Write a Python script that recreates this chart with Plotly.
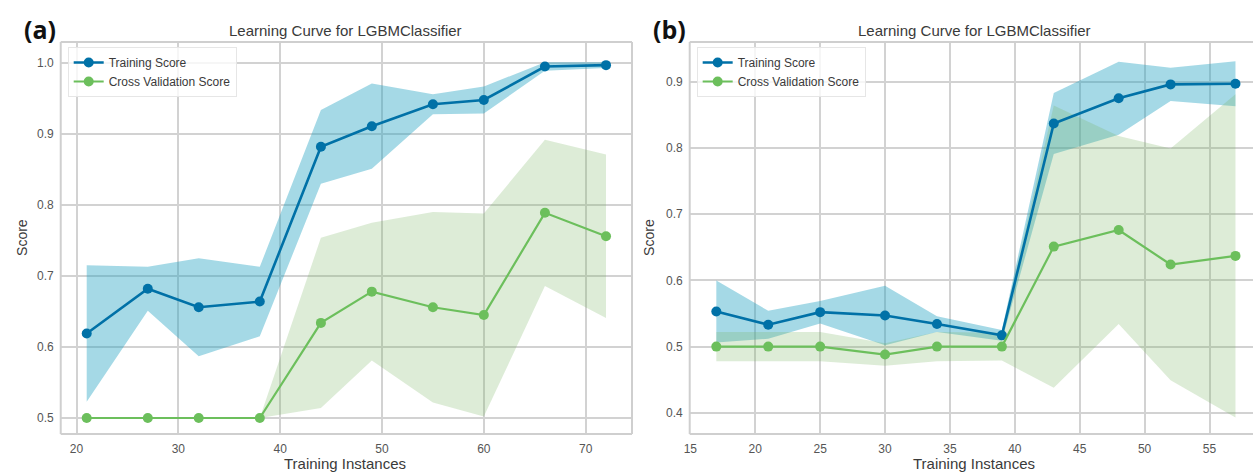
import plotly.graph_objects as go

# ---- panel (a) data ----
a_sizes = [21, 27, 32, 38, 44, 49, 55, 60, 66, 72]
a_train_mean = [0.619, 0.682, 0.656, 0.664, 0.882, 0.911, 0.942, 0.948, 0.995, 0.997]
a_train_std = [0.096, 0.031, 0.069, 0.049, 0.052, 0.060, 0.014, 0.019, 0.006, 0.004]
a_cv_mean = [0.500, 0.500, 0.500, 0.500, 0.634, 0.678, 0.656, 0.645, 0.789, 0.756]
a_cv_std = [0.0, 0.0, 0.0, 0.0, 0.120, 0.097, 0.134, 0.143, 0.103, 0.115]

# ---- panel (b) data ----
b_sizes = [17, 21, 25, 30, 34, 39, 43, 48, 52, 57]
b_train_mean = [0.553, 0.533, 0.552, 0.547, 0.534, 0.517, 0.837, 0.875, 0.896, 0.897]
b_train_std = [0.047, 0.021, 0.017, 0.045, 0.012, 0.008, 0.046, 0.055, 0.025, 0.034]
b_cv_mean = [0.500, 0.500, 0.500, 0.488, 0.500, 0.500, 0.651, 0.676, 0.624, 0.637]
b_cv_std = [0.022, 0.022, 0.022, 0.017, 0.022, 0.021, 0.213, 0.142, 0.175, 0.244]

a_xticks = [20, 30, 40, 50, 60, 70]
a_yticks = [0.5, 0.6, 0.7, 0.8, 0.9, 1.0]
b_xticks = [15, 20, 25, 30, 35, 40, 45, 50, 55]
b_yticks = [0.4, 0.5, 0.6, 0.7, 0.8, 0.9]

TRAIN_COLOR = "#0071a7"
CV_COLOR = "#6cbf5c"
TRAIN_BAND = "rgba(30,160,192,0.40)"
CV_BAND = "rgba(119,179,95,0.25)"
GRID = "#d2d2d2"
TEXT = "#3a3a3a"
TICK = "#555555"

W, H = 1253, 473


def band(xs, mean, std, color, xa, ya):
    upper = [m + s for m, s in zip(mean, std)]
    lower = [m - s for m, s in zip(mean, std)]
    return go.Scatter(
        x=list(xs) + list(xs)[::-1],
        y=upper + lower[::-1],
        fill="toself", fillcolor=color, mode="lines",
        line=dict(width=0), hoverinfo="skip", showlegend=False,
        xaxis=xa, yaxis=ya,
    )


def curve(xs, ys, name, color, width, size, xa, ya, legend):
    return go.Scatter(
        x=xs, y=ys, name=name, mode="lines+markers",
        line=dict(color=color, width=width),
        marker=dict(color=color, size=size),
        xaxis=xa, yaxis=ya, legend=legend,
    )


fig = go.Figure()
# bands first, then lines on top
fig.add_trace(band(a_sizes, a_train_mean, a_train_std, TRAIN_BAND, "x", "y"))
fig.add_trace(band(a_sizes, a_cv_mean, a_cv_std, CV_BAND, "x", "y"))
fig.add_trace(curve(a_sizes, a_train_mean, "Training Score", TRAIN_COLOR, 2.6, 10, "x", "y", "legend"))
fig.add_trace(curve(a_sizes, a_cv_mean, "Cross Validation Score", CV_COLOR, 2.2, 10, "x", "y", "legend"))

fig.add_trace(band(b_sizes, b_train_mean, b_train_std, TRAIN_BAND, "x2", "y2"))
fig.add_trace(band(b_sizes, b_cv_mean, b_cv_std, CV_BAND, "x2", "y2"))
fig.add_trace(curve(b_sizes, b_train_mean, "Training Score", TRAIN_COLOR, 2.6, 10, "x2", "y2", "legend2"))
fig.add_trace(curve(b_sizes, b_cv_mean, "Cross Validation Score", CV_COLOR, 2.2, 10, "x2", "y2", "legend2"))

# plot-area geometry in pixels
A_L, A_R = 55, 629
B_L, B_R = 687, W
P_T, P_B = 42, 434
yd = [1 - P_B / H, 1 - P_T / H]

axis_common = dict(
    showgrid=True, gridcolor=GRID, gridwidth=1.5, zeroline=False,
    showline=False, ticks="", tickfont=dict(family="Liberation Sans, Arial", size=12, color=TICK),
)

fig.update_layout(
    width=W, height=H,
    margin=dict(l=0, r=0, t=0, b=0),
    paper_bgcolor="white", plot_bgcolor="white",
    font=dict(family="Liberation Sans, Arial", color=TEXT),
    xaxis=dict(domain=[A_L / W, A_R / W], anchor="y", range=[18.45, 74.55],
               tickvals=a_xticks, ticklabelstandoff=6, **axis_common),
    yaxis=dict(domain=yd, anchor="x", range=[0.4775, 1.0296],
               tickvals=a_yticks, tickformat=".1f", ticklabelstandoff=6, **axis_common),
    xaxis2=dict(domain=[B_L / W, B_R / W], anchor="y2", range=[14.95, 58.35],
                tickvals=b_xticks, ticklabelstandoff=6, **axis_common),
    yaxis2=dict(domain=yd, anchor="x2", range=[0.368, 0.960],
                tickvals=b_yticks, tickformat=".1f", ticklabelstandoff=6, **axis_common),
    legend=dict(x=62 / W, y=1 - 47 / H, xanchor="left", yanchor="top",
                bgcolor="rgba(255,255,255,0.8)", bordercolor="#e6e6e6", borderwidth=1,
                font=dict(size=12, color=TEXT), tracegroupgap=0),
    legend2=dict(x=(B_L + 7) / W, y=1 - 47 / H, xanchor="left", yanchor="top",
                 bgcolor="rgba(255,255,255,0.8)", bordercolor="#e6e6e6", borderwidth=1,
                 font=dict(size=12, color=TEXT), tracegroupgap=0),
)

# axes frame
BORDER = dict(color="#cfcfcf", width=2)
for xr, yr, sides in (("x domain", "y domain", "ltrb"), ("x2 domain", "y2 domain", "ltb")):
    segs = {"l": (0, 0, 0, 1), "r": (1, 0, 1, 1), "t": (0, 1, 1, 1), "b": (0, 0, 1, 0)}
    for s in sides:
        x0, y0, x1, y1 = segs[s]
        fig.add_shape(type="line", xref=xr, yref=yr, x0=x0, y0=y0, x1=x1, y1=y1,
                      line=BORDER, layer="above")

# titles, panel letters, axis labels
for cx, letter, lx, ylab_x in ((341, "(a)", 34, 16), (973, "(b)", 667, 646)):
    fig.add_annotation(x=cx / W, y=1 - 30 / H, xref="paper", yref="paper",
                       text="Learning Curve for LGBMClassifier", showarrow=False,
                       font=dict(size=15, color=TEXT), xanchor="center", yanchor="middle")
    fig.add_annotation(x=lx / W, y=1 - 29 / H, xref="paper", yref="paper",
                       text="<b>" + letter + "</b>", showarrow=False,
                       font=dict(family="Open Sans, Liberation Sans", size=25, color="#111111"),
                       xanchor="center", yanchor="middle")
    fig.add_annotation(x=ylab_x / W, y=1 - 237 / H, xref="paper", yref="paper",
                       text="Score", textangle=-90, showarrow=False,
                       font=dict(size=14, color=TEXT), xanchor="center", yanchor="middle")
    fig.add_annotation(x=cx / W, y=1 - 463 / H, xref="paper", yref="paper",
                       text="Training Instances", showarrow=False,
                       font=dict(size=15, color=TEXT), xanchor="center", yanchor="middle")

fig.write_html("out.html")
